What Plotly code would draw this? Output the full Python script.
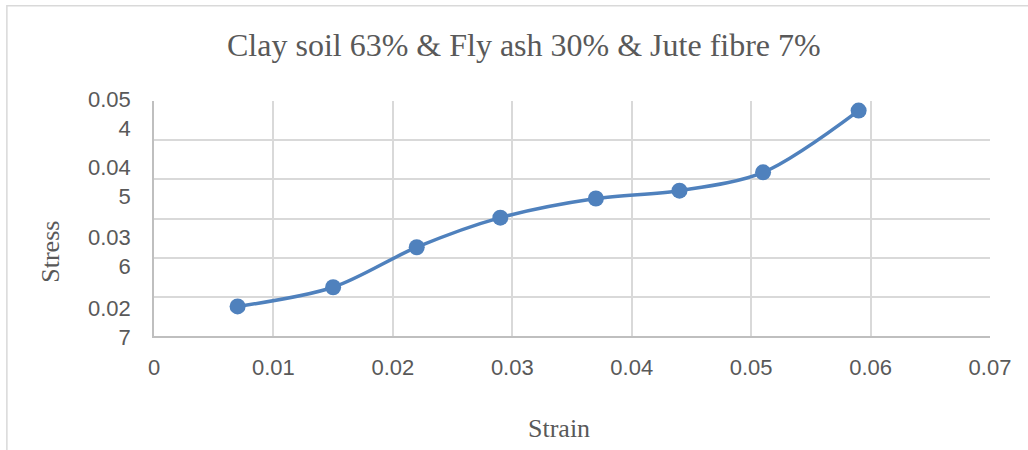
import plotly.graph_objects as go

# Stress-strain readings for the clay / fly ash / jute fibre mix
strain = [0.007, 0.015, 0.022, 0.029, 0.037, 0.044, 0.051, 0.059]
stress = [0.0304, 0.0326, 0.0372, 0.0406, 0.0428, 0.0437, 0.0458, 0.0529]

x_ticks = [0, 0.01, 0.02, 0.03, 0.04, 0.05, 0.06, 0.07]
x_tick_labels = ["0", "0.01", "0.02", "0.03", "0.04", "0.05", "0.06", "0.07"]
y_grid = [0.027, 0.0315, 0.036, 0.0405, 0.045, 0.0495, 0.054]
y_tick_values = [0.054, 0.045, 0.036, 0.027]

title_text = "Clay soil 63% & Fly ash 30% & Jute fibre 7%"
x_title = "Strain"
y_title = "Stress"

LINE_BLUE = "#4F81BD"
GRID = "#d9d9d9"
TEXT = "#595959"
SERIF = "Liberation Serif, Times New Roman, serif"
SANS = "Liberation Sans, Arial, sans-serif"


def wrapped(v):
    # the narrow label box breaks "0.054" into "0.05" / "4"
    s = f"{v:.3f}"
    return s[:4] + "<br>" + s[4:]


fig = go.Figure()
fig.add_trace(go.Scatter(
    x=strain, y=stress, mode="lines+markers",
    line=dict(color=LINE_BLUE, width=3.5, shape="spline", smoothing=0.9),
    marker=dict(color=LINE_BLUE, size=16),
    showlegend=False, hoverinfo="x+y",
))

# vertical placement (paper units) of the wrapped y labels
label_y = [0.944, 0.657, 0.357, 0.054]
annotations = [
    dict(text=wrapped(v), x=0, xref="paper", xshift=-21, xanchor="right",
         y=py, yref="paper", yanchor="middle", showarrow=False, align="right",
         font=dict(family=SANS, size=22, color=TEXT))
    for v, py in zip(y_tick_values, label_y)
]
annotations += [
    dict(text=x_title, x=0.485, xref="paper", y=-0.392, yref="paper",
         showarrow=False, xanchor="center", yanchor="middle",
         font=dict(family=SERIF, size=26, color=TEXT)),
    dict(text=y_title, x=-0.124, xref="paper", y=0.36, yref="paper",
         showarrow=False, textangle=-90, xanchor="center", yanchor="middle",
         font=dict(family=SERIF, size=26, color=TEXT)),
    dict(text=title_text, x=0.442, xref="paper", y=1.24, yref="paper",
         showarrow=False, xanchor="center", yanchor="middle",
         font=dict(family=SERIF, size=32, color=TEXT)),
]

fig.update_layout(
    width=1028, height=450,
    margin=dict(l=154, r=38, t=101, b=114),
    paper_bgcolor="white", plot_bgcolor="white",
    annotations=annotations,
    shapes=[dict(type="rect", xref="paper", yref="paper",
                 x0=-0.176, x1=1.2, y0=-0.7, y1=1.405,
                 line=dict(color=GRID, width=1.5), fillcolor="rgba(0,0,0,0)",
                 layer="below")],
)
fig.update_xaxes(
    range=[0, 0.07], tickvals=x_ticks, ticktext=x_tick_labels,
    showgrid=True, gridcolor=GRID, gridwidth=1.5,
    showline=True, linecolor="#bfbfbf", linewidth=1.5,
    zeroline=False, ticks="outside", ticklen=11, tickcolor="rgba(0,0,0,0)",
    tickfont=dict(family=SANS, size=22, color=TEXT),
)
fig.update_yaxes(
    range=[0.027, 0.054], tickvals=y_grid, showticklabels=False,
    showgrid=True, gridcolor=GRID, gridwidth=1.5,
    showline=True, linecolor="#bfbfbf", linewidth=1.5,
    zeroline=False, ticks="",
)

fig.write_html("out.html")
